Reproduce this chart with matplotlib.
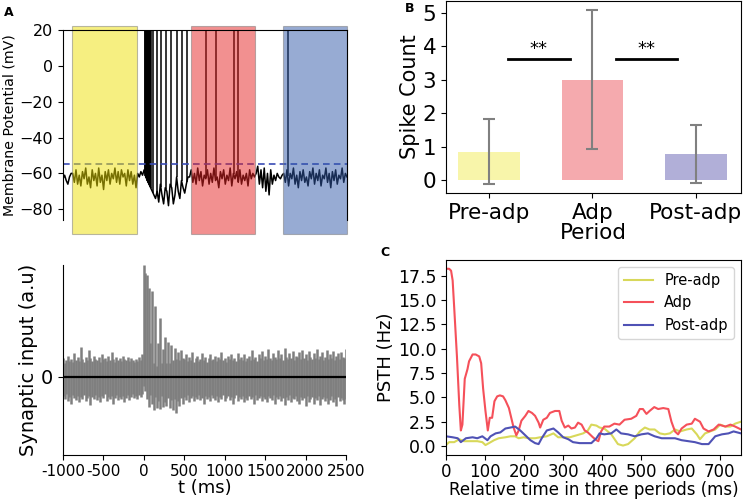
import numpy as np
import matplotlib
matplotlib.use("Agg")
import matplotlib.pyplot as plt
from matplotlib.patches import Rectangle

# ---------------- Panel A (top): membrane potential ----------------
vm_t0, vm_dt = -1000, 20
vm_values = [
    -63, -61, -64, -66, -62, -60,
    -60, -65, -58, -66, -61, -67, -59, -63, -57, -66, -62, -68, -58, -64, -60, -67, -57, -65, -61, -69,
    -59, -64, -58, -66, -60, -63, -57, -65, -59, -66, -58, -62, -60, -67, -58, -64, -59, -66, -61, -68,
    -60, -62, -59, -61,
    -58, -62, -64, -66, -68, -70, -72, -74, -70, -76, -66, -72, -77, -68, -70, -78, -66, -68, -77, -72,
    -62, -70, -74, -64, -68, -71, -66, -62,
    -62, -58, -65, -60, -66, -57, -64, -59, -67, -61, -63, -58, -66, -60, -65, -57, -64, -62, -68, -59,
    -63, -58, -66, -61, -64, -57, -67, -60, -63, -59, -65, -58, -66, -61, -64, -60, -67, -58, -63, -60, -62,
    -60, -56, -66, -58, -68, -57, -70, -60, -72, -58, -66, -61, -64, -60, -62, -63, -61,
    -60, -65, -58, -67, -60, -63, -57, -66, -61, -68, -59, -64, -58, -65, -62, -67, -59, -63, -57, -66,
    -60, -64, -58, -67, -61, -63, -57, -65, -60, -68, -59, -64, -58, -66, -61, -63, -57, -65, -60, -62,
]
spike_times = [10, 16, 22, 28, 34, 40, 46, 52, 58, 64, 70, 76, 83, 111, 153, 206, 268, 329, 400, 461, 526,
               761, 884, 1102, 1159, 1768]
threshold = -55
periods = [(-890, -90), (576, 1365), (1710, 2500)]
period_colors = ["#efe105", "#e72323", "#3159a9"]

# ---------------- Panel A (bottom): synaptic input ----------------
syn_t0, syn_dt = -1000, 20
syn_upper = [
    0.17, 0.12, 0.15, 0.19, 0.14, 0.16, 0.13, 0.21, 0.15, 0.18,
    0.14, 0.27, 0.16, 0.13, 0.18, 0.15, 0.24, 0.17, 0.14, 0.19,
    0.16, 0.15, 0.18, 0.13, 0.20, 0.16, 0.17, 0.14, 0.19, 0.15,
    0.22, 0.16, 0.13, 0.18, 0.15, 0.17, 0.14, 0.19, 0.16, 0.15,
    0.18, 0.14, 0.17, 0.15, 0.13, 0.16, 0.14, 0.18, 0.15, 0.20,
    1.00, 0.93, 0.91, 0.79, 0.30, 0.77, 0.12, 0.63, 0.10, 0.30,
    0.53, 0.12, 0.25, 0.36, 0.12, 0.31, 0.12, 0.28, 0.15, 0.26,
    0.16, 0.22, 0.15, 0.24, 0.17,
    0.16, 0.20, 0.14, 0.18, 0.15, 0.22, 0.13, 0.17, 0.19, 0.14,
    0.16, 0.21, 0.15, 0.18, 0.13, 0.17, 0.20, 0.15, 0.16, 0.19,
    0.14, 0.18, 0.16, 0.22, 0.15, 0.17, 0.13, 0.19, 0.16, 0.20,
    0.15, 0.17, 0.14, 0.21, 0.16, 0.18, 0.15, 0.20, 0.14, 0.17,
    0.19, 0.15, 0.24, 0.16, 0.18, 0.14, 0.20, 0.17, 0.23, 0.15,
    0.19, 0.16, 0.25, 0.17, 0.15, 0.21, 0.18, 0.16, 0.24, 0.17,
    0.20, 0.15, 0.26, 0.18, 0.16, 0.21, 0.17, 0.23, 0.15, 0.19,
    0.18, 0.22, 0.16, 0.24, 0.17, 0.20, 0.15, 0.23, 0.18, 0.16,
    0.21, 0.17, 0.25, 0.16, 0.19, 0.22, 0.15, 0.18, 0.24, 0.16,
    0.20, 0.17, 0.23, 0.15, 0.19, 0.21, 0.16, 0.22, 0.18, 0.17,
    0.25,
]
syn_lower = [
    -0.17, -0.20, -0.15, -0.22, -0.18, -0.24, -0.16, -0.19, -0.21, -0.17,
    -0.23, -0.18, -0.20, -0.16, -0.22, -0.19, -0.17, -0.25, -0.18, -0.20,
    -0.16, -0.21, -0.18, -0.23, -0.17, -0.19, -0.15, -0.22, -0.18, -0.20,
    -0.17, -0.24, -0.19, -0.16, -0.21, -0.18, -0.20, -0.17, -0.23, -0.19,
    -0.16, -0.21, -0.18, -0.15, -0.19, -0.17, -0.20, -0.16, -0.18, -0.15,
    -0.08, -0.13, -0.20, -0.27, -0.16, -0.24, -0.30, -0.18, -0.28, -0.22,
    -0.29, -0.17, -0.27, -0.23, -0.26, -0.19, -0.28, -0.21, -0.30, -0.20,
    -0.32, -0.22, -0.26, -0.19, -0.24,
    -0.18, -0.21, -0.16, -0.23, -0.19, -0.17, -0.22, -0.18, -0.20, -0.16,
    -0.21, -0.19, -0.24, -0.17, -0.20, -0.18, -0.22, -0.16, -0.19, -0.21,
    -0.17, -0.23, -0.18, -0.20, -0.16, -0.22, -0.19, -0.17, -0.21, -0.18,
    -0.24, -0.19, -0.16, -0.22, -0.18, -0.20, -0.17, -0.23, -0.19, -0.21,
    -0.17, -0.20, -0.18, -0.24, -0.16, -0.21, -0.19, -0.17, -0.22, -0.18,
    -0.20, -0.23, -0.17, -0.19, -0.21, -0.16, -0.24, -0.18, -0.20, -0.17,
    -0.22, -0.19, -0.25, -0.18, -0.21, -0.16, -0.23, -0.19, -0.20, -0.17,
    -0.22, -0.24, -0.18, -0.21, -0.19, -0.26, -0.17, -0.23, -0.20, -0.18,
    -0.24, -0.19, -0.21, -0.17, -0.25, -0.20, -0.18, -0.22, -0.19, -0.24,
    -0.21, -0.17, -0.23, -0.20, -0.26, -0.18, -0.22, -0.19, -0.21, -0.24,
    -0.20,
]
syn_xticks = [-1000, -500, 0, 500, 1000, 1500, 2000, 2500]
syn_xticklabels = ["-1000", "-500", "0", "500", "1000", "1500", "2000", "2500"]

# ---------------- Panel B: spike count ----------------
bar_labels = ["Pre-adp", "Adp", "Post-adp"]
bar_means = [0.85, 3.0, 0.78]
bar_errs = [0.98, 2.08, 0.87]
bar_colors = ["#f8f5aa", "#f5aaae", "#b1afd8"]
sig_pairs = [(0.18, 0.78), (1.23, 1.82)]
sig_y = 3.62

# ---------------- Panel C: PSTH ----------------
pre_t = [0, 8, 21, 34, 46, 63, 80, 93, 101, 110, 123, 135, 152, 165, 177, 186, 199, 211, 228, 241, 258, 275,
         287, 300, 317, 334, 351, 363, 372, 385, 393, 405, 423, 440, 453, 466, 483, 496, 509, 521, 534, 547,
         560, 573, 586, 599, 616, 629, 642, 650, 663, 676, 689, 702, 715, 728, 740, 755]
pre_v = [0.1, 0.4, 0.4, 0.7, 0.5, 0.5, 0.5, 0.4, 0.1, 0.3, 0.6, 0.8, 0.9, 1.0, 1.0, 0.8, 0.9, 0.8, 0.8, 0.9,
         1.0, 1.3, 0.9, 0.9, 0.9, 1.1, 1.3, 1.6, 2.2, 2.1, 1.9, 1.8, 1.2, 0.2, 0.05, 0.2, 0.8, 1.5, 1.9, 1.7,
         1.7, 1.3, 1.2, 1.3, 1.7, 1.5, 1.7, 1.8, 1.2, 0.7, 1.3, 1.5, 1.7, 2.2, 2.0, 2.0, 2.3, 2.5]
adp_t = [0, 8, 13, 17, 21, 28, 34, 38, 42, 48, 55, 59, 68, 76, 85, 90, 95, 101, 107, 112, 118, 124, 131, 138,
         146, 152, 161, 167, 173, 180, 186, 193, 203, 211, 220, 228, 237, 241, 249, 258, 266, 279, 290, 296,
         304, 313, 321, 330, 338, 347, 355, 363, 376, 385, 390, 397, 405, 418, 431, 444, 457, 474, 487, 496,
         504, 513, 521, 533, 543, 556, 569, 577, 586, 594, 603, 616, 629, 637, 650, 659, 672, 685, 698, 715,
         728, 740, 755]
adp_v = [18.2, 18.2, 18.0, 17.0, 14.2, 9.2, 4.2, 1.6, 2.2, 6.9, 7.9, 8.7, 9.4, 9.4, 9.2, 8.5, 5.9, 3.6, 1.6,
         2.9, 2.9, 4.6, 5.1, 5.2, 5.1, 4.7, 3.9, 2.9, 1.9, 1.1, 1.6, 2.6, 3.1, 3.6, 3.4, 3.1, 2.4, 1.9, 2.7,
         2.9, 3.4, 3.6, 3.6, 2.6, 1.9, 2.1, 1.8, 1.9, 2.4, 2.2, 1.6, 1.4, 0.9, 0.6, 0.5, 1.5, 2.0, 2.0, 2.3,
         2.2, 2.7, 2.8, 3.1, 3.8, 3.8, 3.3, 3.6, 4.0, 3.8, 3.9, 3.8, 2.5, 1.5, 1.2, 1.8, 2.2, 2.3, 2.8, 2.5,
         1.8, 1.5, 1.7, 2.2, 2.0, 2.2, 2.0, 1.7]
post_t = [0, 17, 30, 38, 51, 68, 80, 93, 106, 114, 127, 139, 152, 165, 177, 190, 203, 216, 228, 237, 245, 258,
          275, 287, 300, 313, 325, 342, 359, 372, 385, 393, 405, 423, 436, 448, 466, 483, 500, 517, 534, 552,
          569, 586, 603, 620, 637, 655, 672, 689, 706, 723, 736, 755]
post_v = [1.0, 0.9, 0.8, 0.4, 0.8, 0.9, 0.8, 1.0, 0.6, 1.0, 1.3, 1.4, 1.8, 1.9, 2.0, 1.6, 1.1, 0.6, 0.3, 0.2,
          0.8, 1.6, 1.8, 1.4, 0.9, 0.7, 0.4, 0.3, 0.3, 0.3, 0.8, 1.3, 1.2, 1.3, 1.7, 1.3, 1.2, 1.0, 1.2, 1.3,
          1.0, 0.8, 0.8, 0.8, 0.6, 0.5, 0.4, 0.2, 0.2, 1.0, 1.2, 1.3, 1.5, 1.3]
psth_labels = ["Pre-adp", "Adp", "Post-adp"]
psth_colors = ["#d8d85a", "#f5505a", "#4f52b5"]

# ================= Figure =================
W, H = 752, 500
fig = plt.figure(figsize=(W / 100, H / 100), dpi=100)


def rect(l, t, r, b):
    return [l / W, 1 - b / H, (r - l) / W, (b - t) / H]


# ---- A top ----
axA = fig.add_axes(rect(63, 30, 347, 220))
vm_time = vm_t0 + vm_dt * np.arange(len(vm_values))
axA.plot(vm_time, vm_values, color="black", lw=1.1, zorder=1)
vm_at_spikes = np.interp(spike_times, vm_time, vm_values)
axA.vlines(spike_times, vm_at_spikes, 40, color="black", lw=1.1, zorder=1)
axA.axhline(threshold, color="#3a4cb5", lw=1.2, ls=(0, (4, 2.5)), zorder=1)
for (a, b), c in zip(periods, period_colors):
    axA.add_patch(Rectangle((a, -94), b - a, 116, facecolor=c, alpha=0.5, edgecolor="#777777",
                            lw=0.8, clip_on=False, zorder=2))
axA.set_xlim(-1000, 2500)
axA.set_ylim(-86, 20)
axA.set_yticks([20, 0, -20, -40, -60, -80])
axA.tick_params(axis="y", labelsize=11.5)
axA.set_xticks([])
axA.spines["bottom"].set_visible(False)
axA.set_ylabel("Membrane Potential (mV)", fontsize=10.2, labelpad=2)

# ---- A bottom ----
axS = fig.add_axes(rect(63, 265, 346, 455))
syn_time = syn_t0 + syn_dt * np.arange(len(syn_upper))
axS.vlines(syn_time, syn_lower, syn_upper, color="#7f7f7f", lw=1.8)
axS.axhline(0, color="black", lw=1.6)
axS.set_xlim(-1000, 2500)
axS.set_ylim(-0.7, 1.0)
axS.set_xticks(syn_xticks)
axS.set_xticklabels(syn_xticklabels)
axS.tick_params(axis="x", labelsize=11, pad=3)
axS.set_yticks([0])
axS.tick_params(axis="y", labelsize=14)
axS.spines["top"].set_visible(False)
axS.spines["right"].set_visible(False)
axS.set_xlabel("t (ms)", fontsize=13, labelpad=0)
axS.set_ylabel("Synaptic input (a.u)", fontsize=14, labelpad=2)

# ---- B ----
axB = fig.add_axes(rect(446, 1, 741, 193))
xb = np.arange(len(bar_labels))
axB.bar(xb, bar_means, width=0.6, color=bar_colors)
axB.errorbar(xb, bar_means, yerr=bar_errs, fmt="none", ecolor="#808080", elinewidth=1.5, capsize=4,
             capthick=1.5)
for a, b in sig_pairs:
    axB.plot([a, b], [sig_y, sig_y], color="black", lw=2)
    axB.text((a + b) / 2, sig_y + 0.02, "**", ha="center", va="bottom", fontsize=13)
axB.set_xlim(-0.42, 2.44)
axB.set_ylim(-0.39, 5.36)
axB.set_xticks(xb)
axB.set_xticklabels(bar_labels)
axB.set_yticks([0, 1, 2, 3, 4, 5])
axB.tick_params(labelsize=15.5)
axB.set_xlabel("Period", fontsize=15.5, labelpad=0)
axB.set_ylabel("Spike Count", fontsize=15, labelpad=2)

# ---- C ----
axC = fig.add_axes(rect(446, 260, 741, 455))
for tt, vv, lab, c in zip([pre_t, adp_t, post_t], [pre_v, adp_v, post_v], psth_labels, psth_colors):
    axC.plot(tt, vv, color=c, lw=1.5, label=lab)
axC.set_xlim(0, 755)
axC.set_ylim(-0.92, 19.1)
axC.set_xticks([0, 100, 200, 300, 400, 500, 600, 700])
axC.set_yticks([0, 2.5, 5, 7.5, 10, 12.5, 15, 17.5])
axC.tick_params(labelsize=12.5)
axC.tick_params(axis="x", labelsize=12, pad=2)
axC.set_xlabel("Relative time in three periods (ms)", fontsize=12, labelpad=0)
axC.set_ylabel("PSTH (Hz)", fontsize=13, labelpad=2)
axC.legend(loc="upper right", fontsize=10.5)

# ---- panel letters ----
fig.text(4 / W, 1 - 12 / H, "A", fontsize=9, fontweight="bold", va="center", ha="left")
fig.text(405 / W, 1 - 9 / H, "B", fontsize=9, fontweight="bold", va="center", ha="left")
fig.text(380 / W, 1 - 252 / H, "C", fontsize=9, fontweight="bold", va="center", ha="left")

fig.savefig("out.png", dpi=100)
